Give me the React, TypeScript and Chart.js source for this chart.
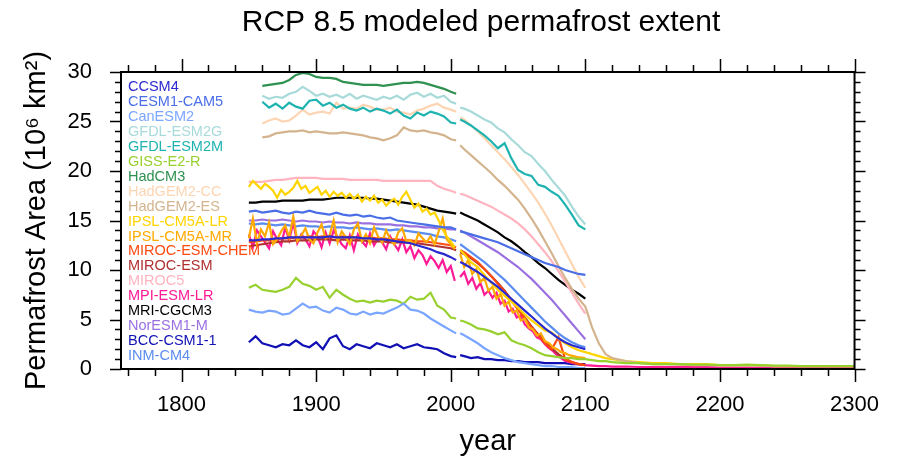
import { useEffect, useRef } from 'react';
import { Chart, registerables } from 'chart.js';

Chart.register(...registerables);

// ---------- axes / tick labels ----------
const chartTitle = 'RCP 8.5 modeled permafrost extent';
const xLabelYears = [1800, 1900, 2000, 2100, 2200, 2300];
const yLabelValues = [0, 5, 10, 15, 20, 25, 30];

// ---------- time axes of the data ----------
const histYears = [1850, 1855, 1860, 1865, 1870, 1875, 1880, 1885, 1890, 1895, 1900, 1905, 1910, 1915, 1920, 1925, 1930, 1935, 1940, 1945, 1950, 1955, 1960, 1965, 1970, 1975, 1980, 1985, 1990, 1995, 2000, 2004];
const histYearsLate = [1860, 1865, 1870, 1875, 1880, 1885, 1890, 1895, 1900, 1905, 1910, 1915, 1920, 1925, 1930, 1935, 1940, 1945, 1950, 1955, 1960, 1965, 1970, 1975, 1980, 1985, 1990, 1995, 2000, 2004];
const histYearsFine = [1850, 1853, 1856, 1859, 1862, 1865, 1868, 1871, 1874, 1877, 1880, 1883, 1886, 1889, 1892, 1895, 1898, 1901, 1904, 1907, 1910, 1913, 1916, 1919, 1922, 1925, 1928, 1931, 1934, 1937, 1940, 1943, 1946, 1949, 1952, 1955, 1958, 1961, 1964, 1967, 1970, 1973, 1976, 1979, 1982, 1985, 1988, 1991, 1994, 1997, 2000, 2003];
const rcpYears = [2007, 2010, 2015, 2020, 2025, 2030, 2035, 2040, 2045, 2050, 2055, 2060, 2065, 2070, 2075, 2080, 2085, 2090, 2095, 2100];
const rcpYearsFine = [2007, 2010, 2013, 2016, 2019, 2022, 2025, 2028, 2031, 2034, 2037, 2040, 2043, 2046, 2049, 2052, 2055, 2058, 2061, 2064, 2067, 2070, 2073, 2076, 2079, 2082, 2085, 2088, 2091, 2094, 2097, 2100];
const extYears = [2105, 2110, 2115, 2120, 2130, 2140, 2150, 2160, 2170, 2180, 2190, 2200, 2210, 2220, 2230, 2240, 2250, 2260, 2270, 2280, 2290, 2300];

// ---------- model names & colours ----------
const modelNames = ['CCSM4', 'CESM1-CAM5', 'CanESM2', 'GFDL-ESM2G', 'GFDL-ESM2M', 'GISS-E2-R', 'HadCM3', 'HadGEM2-CC', 'HadGEM2-ES', 'IPSL-CM5A-LR', 'IPSL-CM5A-MR', 'MIROC-ESM-CHEM', 'MIROC-ESM', 'MIROC5', 'MPI-ESM-LR', 'MRI-CGCM3', 'NorESM1-M', 'BCC-CSM1-1', 'INM-CM4'];
const modelColors = ['#2a2ad0', '#4a6ee6', '#7ba6ff', '#a9dada', '#1fb3b0', '#98d030', '#2e9150', '#fdd5b2', '#d4b48e', '#ffd400', '#ffaa00', '#ff4a10', '#b03030', '#ffb4c0', '#ff1a96', '#000000', '#9a70e0', '#1010b4', '#5b8cf0'];

// ---------- permafrost area (10^6 km2) ----------
const ccsm4Hist = [13.0, 13.0, 13.1, 13.1, 13.2, 13.2, 13.3, 13.3, 13.3, 13.3, 13.3, 13.3, 13.4, 13.3, 13.3, 13.3, 13.3, 13.2, 13.2, 13.1, 13.1, 13.0, 12.9, 12.8, 12.7, 12.5, 12.3, 12.1, 11.8, 11.6, 11.3, 11.0];
const ccsm4Rcp = [10.8, 10.6, 10.2, 9.8, 9.3, 8.8, 8.3, 7.7, 7.1, 6.5, 5.9, 5.3, 4.7, 4.1, 3.6, 3.1, 2.7, 2.4, 2.2, 2.0];

const cesmHist = [15.9, 16.0, 15.8, 15.9, 16.0, 15.8, 15.7, 15.9, 15.8, 16.0, 15.8, 15.7, 15.6, 15.8, 15.6, 15.5, 15.6, 15.4, 15.5, 15.3, 15.2, 15.3, 15.0, 14.9, 14.8, 14.7, 14.6, 14.5, 14.4, 14.3, 14.3, 14.1];
const cesmRcp = [13.9, 13.8, 13.6, 13.4, 13.2, 13.0, 12.8, 12.5, 12.2, 11.9, 11.6, 11.3, 11.0, 10.7, 10.5, 10.3, 10.0, 9.8, 9.6, 9.5];

const canesmHist = [6.0, 5.8, 5.7, 5.9, 5.8, 5.5, 5.6, 6.1, 6.6, 6.2, 6.3, 5.9, 5.7, 6.2, 6.0, 5.6, 5.5, 5.8, 5.5, 5.7, 5.6, 5.9, 6.2, 6.6, 6.0, 5.9, 5.6, 5.1, 4.7, 4.3, 3.9, 3.6];
const canesmRcp = [3.6, 3.4, 3.0, 2.6, 2.1, 1.7, 1.4, 1.1, 0.9, 0.7, 0.6, 0.5, 0.4, 0.3, 0.3, 0.2, 0.2, 0.2, 0.1, 0.1];

const gfdlGHist = [27.6, 27.3, 27.5, 27.4, 27.8, 28.0, 28.5, 28.1, 27.6, 27.8, 27.5, 27.7, 27.4, 27.8, 27.3, 27.6, 27.4, 27.2, 27.5, 27.3, 27.6, 27.2, 27.7, 27.9, 27.5, 27.8, 27.4, 27.6, 27.0, 26.8];
const gfdlGRcp = [26.4, 26.3, 26.0, 25.6, 25.2, 24.9, 24.3, 23.9, 23.2, 22.6, 21.9, 21.5, 20.7, 20.0, 19.1, 18.3, 17.5, 16.4, 15.4, 14.6];

const gfdlMHist = [27.0, 26.4, 26.8, 26.3, 26.9, 26.5, 26.3, 27.1, 27.2, 26.6, 26.9, 26.4, 26.7, 26.3, 26.1, 26.4, 26.0, 26.3, 26.1, 25.8, 26.2, 25.6, 25.3, 25.9, 25.6, 26.0, 25.8, 25.5, 24.9, 24.8];
const gfdlMRcp = [25.2, 25.0, 24.6, 24.1, 23.6, 23.0, 22.3, 22.8, 21.3, 20.1, 19.7, 19.5, 18.6, 18.4, 17.9, 17.5, 16.6, 15.6, 14.5, 14.1];

const gissHist = [8.2, 8.5, 8.0, 7.9, 7.8, 8.0, 8.3, 9.2, 8.6, 8.4, 8.0, 8.3, 7.2, 8.0, 7.5, 7.1, 6.8, 6.9, 6.7, 6.9, 6.8, 7.0, 6.9, 6.6, 7.3, 7.0, 7.1, 7.7, 6.4, 6.0, 5.2, 5.1];
const gissRcp = [4.9, 4.8, 4.5, 4.1, 4.0, 3.8, 3.5, 3.7, 2.9, 2.6, 2.4, 2.1, 1.7, 1.4, 1.3, 1.2, 1.1, 1.1, 1.0, 1.0];
const gissExt = [0.9, 0.8, 0.8, 0.7, 0.6, 0.6, 0.5, 0.5, 0.5, 0.45, 0.45, 0.4, 0.4, 0.45, 0.4, 0.35, 0.35, 0.3, 0.3, 0.3, 0.3, 0.3];

const hadcm3Hist = [28.6, 28.7, 28.8, 28.9, 29.2, 29.7, 29.9, 29.8, 29.5, 29.4, 29.4, 29.3, 29.0, 28.9, 28.8, 28.7, 28.7, 28.7, 28.6, 28.7, 28.8, 28.9, 28.9, 29.0, 28.9, 28.7, 28.5, 28.3, 28.0, 27.8];

const hadccHist = [24.8, 25.1, 25.3, 25.0, 25.1, 25.6, 26.2, 25.7, 25.9, 26.0, 25.8, 26.9, 26.3, 26.4, 26.3, 26.7, 26.5, 26.2, 26.2, 26.4, 26.0, 25.9, 25.7, 26.1, 26.3, 26.6, 26.8, 26.4, 26.2, 26.0];
const hadccRcp = [25.4, 25.2, 24.6, 24.0, 23.3, 22.6, 21.9, 21.2, 20.4, 19.6, 18.7, 17.8, 16.8, 15.7, 14.5, 13.2, 11.9, 10.6, 9.3, 8.2];

const hadesHist = [23.4, 23.5, 23.8, 23.9, 24.0, 24.0, 24.1, 23.9, 24.0, 23.9, 23.8, 23.8, 23.9, 23.8, 23.7, 23.6, 23.4, 23.3, 23.1, 23.3, 23.6, 24.4, 24.1, 24.0, 24.1, 23.9, 23.8, 23.6, 23.2, 23.1];
const hadesRcp = [22.6, 22.2, 21.6, 21.0, 20.4, 19.8, 19.1, 18.5, 17.8, 17.1, 16.2, 15.2, 14.1, 12.9, 11.7, 10.4, 9.2, 8.1, 7.1, 6.3];
const hadesExt = [4.2, 2.6, 1.5, 1.1, 0.8, 0.6, 0.5, 0.5, 0.45, 0.4, 0.4, 0.4, 0.35, 0.35, 0.35, 0.3, 0.3, 0.3, 0.3, 0.3, 0.3, 0.3];

const ipslLrHist = [18.4, 19.0, 18.6, 18.2, 18.7, 18.4, 18.0, 17.3, 18.1, 17.6, 17.9, 18.3, 19.0, 18.2, 18.5, 17.8, 18.1, 18.4, 17.6, 18.0, 17.4, 17.9, 17.5, 17.8, 17.3, 17.7, 17.2, 17.6, 16.9, 17.4, 17.0, 17.5, 16.8, 17.1, 16.5, 16.9, 17.2, 16.6, 17.4, 17.9, 17.1, 16.3, 16.7, 15.9, 16.2, 15.6, 15.8, 15.0, 14.1, 13.4, 12.9, 12.3];
const ipslLrRcp = [12.0, 11.6, 10.8, 10.3, 9.5, 8.7, 8.0, 7.4, 6.8, 6.2, 5.5, 4.9, 4.4, 3.9, 3.7, 3.1, 2.6, 2.2, 1.9, 1.7];
const ipslLrExt = [1.5, 1.3, 1.1, 1.0, 0.8, 0.7, 0.6, 0.6, 0.5, 0.5, 0.5, 0.4, 0.4, 0.4, 0.4, 0.3, 0.3, 0.3, 0.3, 0.3, 0.3, 0.3];

const ipslMrHist = [13.2, 15.2, 12.7, 14.1, 13.4, 14.8, 12.6, 13.1, 13.9, 14.5, 13.3, 15.4, 12.9, 13.5, 14.2, 13.1, 12.7, 13.8, 14.6, 13.2, 13.5, 15.0, 12.8, 13.9, 13.3, 12.6, 14.1, 14.7, 12.9, 13.6, 12.7, 14.3, 13.4, 12.8, 14.0, 13.1, 12.6, 13.8, 14.2, 12.9, 13.0, 12.5, 13.7, 13.2, 12.8, 13.4, 12.6, 13.9, 15.2, 13.1, 12.6, 12.1];
const ipslMrRcp = [11.6, 10.3, 11.0, 9.6, 10.1, 8.8, 9.2, 7.9, 8.3, 7.1, 7.6, 6.4, 6.8, 5.7, 5.9, 4.9, 5.1, 4.2, 4.0, 3.4, 3.6, 2.8, 2.6, 2.2, 2.0, 1.7, 1.6, 1.4, 1.3, 1.2, 1.15, 1.1];

const mirocChemHist = [12.8, 12.9, 13.0, 13.0, 13.1, 13.2, 13.2, 13.3, 13.3, 13.4, 13.3, 13.4, 13.4, 13.3, 13.4, 13.3, 13.3, 13.2, 13.3, 13.2, 13.2, 13.1, 13.1, 13.0, 13.0, 12.9, 12.9, 12.8, 12.7, 12.6, 12.5, 12.3];
const mirocChemRcp = [12.0, 11.8, 11.3, 10.8, 10.1, 9.4, 8.6, 7.8, 6.9, 6.0, 5.1, 4.2, 3.4, 2.6, 2.0, 3.2, 1.0, 0.7, 0.5, 0.4];

const mirocEsmHist = [12.4, 12.5, 12.6, 12.7, 12.8, 12.9, 12.9, 13.0, 13.0, 13.0, 13.1, 13.1, 13.1, 13.0, 13.1, 13.0, 13.0, 13.0, 12.9, 12.9, 12.9, 12.8, 12.8, 12.8, 12.7, 12.7, 12.6, 12.5, 12.4, 12.3, 12.2, 12.0];
const mirocEsmRcp = [11.8, 11.6, 11.2, 10.7, 10.1, 9.4, 8.7, 7.9, 7.0, 6.1, 5.2, 4.3, 3.5, 2.8, 2.1, 1.5, 1.0, 0.7, 0.5, 0.4];

const miroc5Hist = [18.9, 18.9, 18.9, 19.0, 19.1, 19.1, 19.2, 19.3, 19.3, 19.3, 19.3, 19.2, 19.2, 19.2, 19.2, 19.1, 19.1, 19.1, 19.1, 19.1, 19.0, 19.0, 19.0, 19.0, 19.0, 19.0, 19.0, 19.0, 18.5, 18.2, 18.0, 17.8];
const miroc5Rcp = [17.7, 17.6, 17.3, 17.0, 16.7, 16.4, 16.0, 15.6, 15.2, 14.7, 14.1, 13.4, 12.6, 11.8, 10.9, 9.9, 8.8, 7.7, 6.6, 5.6];

const mpiHist = [13.6, 12.3, 14.0, 13.4, 12.8, 12.2, 13.9, 13.1, 12.5, 14.3, 13.0, 14.8, 12.7, 13.6, 13.1, 12.4, 13.9, 13.4, 12.3, 13.8, 12.7, 14.0, 13.3, 12.6, 12.2, 13.5, 12.0, 13.6, 12.9, 12.4, 13.7, 12.5, 13.2, 12.8, 12.1, 13.4, 12.6, 12.0, 13.1, 11.8, 12.4, 11.2, 12.0, 11.5, 10.6, 11.4, 10.9, 10.2, 11.0, 9.8, 10.4, 8.9];
const mpiRcp = [9.3, 9.8, 8.6, 9.2, 8.1, 8.7, 7.5, 7.9, 7.2, 7.7, 6.6, 6.9, 5.8, 6.1, 5.2, 5.4, 4.5, 4.1, 3.8, 3.2, 3.0, 2.5, 2.1, 1.8, 1.4, 1.1, 0.8, 0.7, 0.6, 0.5, 0.45, 0.4];
const mpiExt = [0.35, 0.3, 0.3, 0.25, 0.25, 0.2, 0.2, 0.2, 0.2, 0.2, 0.2, 0.15, 0.15, 0.15, 0.15, 0.15, 0.15, 0.15, 0.15, 0.15, 0.15, 0.15];

const mriHist = [16.8, 16.8, 16.9, 16.9, 16.9, 17.0, 17.0, 17.0, 17.0, 17.1, 17.1, 17.1, 17.2, 17.3, 17.3, 17.3, 17.3, 17.3, 17.2, 17.2, 17.1, 17.0, 16.9, 16.8, 16.7, 16.6, 16.4, 16.2, 16.0, 15.9, 15.8, 15.7];
const mriRcp = [15.8, 15.6, 15.3, 15.0, 14.6, 14.2, 13.8, 13.3, 12.9, 12.4, 11.8, 11.3, 10.7, 10.2, 9.6, 9.0, 8.5, 8.0, 7.6, 7.1];

const noresmHist = [15.0, 15.0, 15.1, 15.0, 15.0, 15.1, 15.0, 14.9, 15.0, 14.9, 14.9, 14.8, 14.9, 14.8, 14.8, 14.7, 14.8, 14.7, 14.7, 14.6, 14.6, 14.6, 14.5, 14.5, 14.4, 14.4, 14.3, 14.3, 14.2, 14.2, 14.1, 14.1];
const noresmRcp = [14.0, 13.8, 13.4, 13.0, 12.6, 12.2, 11.8, 11.3, 10.8, 10.3, 9.7, 9.1, 8.4, 7.7, 7.0, 6.2, 5.4, 4.6, 3.8, 3.0];

const bccHist = [2.7, 3.3, 2.6, 2.4, 2.2, 2.5, 2.4, 2.9, 2.4, 2.2, 2.7, 2.0, 3.1, 3.4, 2.3, 2.0, 2.5, 2.3, 2.1, 2.6, 2.4, 2.2, 2.5, 2.1, 2.3, 2.5, 2.2, 2.1, 2.0, 1.6, 1.3, 1.2];
const bccRcp = [1.4, 1.3, 1.1, 1.2, 1.0, 1.0, 0.9, 0.9, 0.8, 0.8, 0.7, 0.7, 0.7, 0.6, 0.6, 0.6, 0.6, 0.5, 0.5, 0.5];

const inmHist = [14.7, 14.6, 14.7, 14.6, 14.5, 14.6, 14.5, 14.4, 14.5, 14.4, 14.4, 14.3, 14.4, 14.3, 14.3, 14.2, 14.3, 14.2, 14.1, 14.2, 14.1, 14.0, 14.1, 14.0, 13.9, 13.8, 13.7, 13.6, 13.4, 13.3, 13.1, 12.9];
const inmRcp = [12.6, 12.3, 11.8, 11.3, 10.8, 10.2, 9.6, 9.0, 8.3, 7.6, 6.9, 6.2, 5.5, 4.8, 4.2, 3.6, 3.1, 2.7, 2.4, 2.2];

type Pt = { x: number; y: number | null };

function buildSeries(hYears: number[], hist: number[], rYears?: number[], rcp?: number[], ext?: number[]): Pt[] {
  const pts: Pt[] = hist.map((v, i) => ({ x: hYears[i], y: v }));
  if (rcp && rYears) {
    pts.push({ x: 2005.5, y: null });
    rcp.forEach((v, i) => pts.push({ x: rYears[i], y: v }));
  }
  if (ext) ext.forEach((v, i) => pts.push({ x: extYears[i], y: v }));
  return pts;
}

const modelSeries: Pt[][] = [
  buildSeries(histYears, ccsm4Hist, rcpYears, ccsm4Rcp),
  buildSeries(histYears, cesmHist, rcpYears, cesmRcp),
  buildSeries(histYears, canesmHist, rcpYears, canesmRcp),
  buildSeries(histYearsLate, gfdlGHist, rcpYears, gfdlGRcp),
  buildSeries(histYearsLate, gfdlMHist, rcpYears, gfdlMRcp),
  buildSeries(histYears, gissHist, rcpYears, gissRcp, gissExt),
  buildSeries(histYearsLate, hadcm3Hist),
  buildSeries(histYearsLate, hadccHist, rcpYears, hadccRcp),
  buildSeries(histYearsLate, hadesHist, rcpYears, hadesRcp, hadesExt),
  buildSeries(histYearsFine, ipslLrHist, rcpYears, ipslLrRcp, ipslLrExt),
  buildSeries(histYearsFine, ipslMrHist, rcpYearsFine, ipslMrRcp),
  buildSeries(histYears, mirocChemHist, rcpYears, mirocChemRcp),
  buildSeries(histYears, mirocEsmHist, rcpYears, mirocEsmRcp),
  buildSeries(histYears, miroc5Hist, rcpYears, miroc5Rcp),
  buildSeries(histYearsFine, mpiHist, rcpYearsFine, mpiRcp, mpiExt),
  buildSeries(histYears, mriHist, rcpYears, mriRcp),
  buildSeries(histYears, noresmHist, rcpYears, noresmRcp),
  buildSeries(histYears, bccHist, rcpYears, bccRcp),
  buildSeries(histYears, inmHist, rcpYears, inmRcp),
];

const SANS = '"Liberation Sans", Arial, Helvetica, sans-serif';

const framePlugin = {
  id: 'frameTicksLegend',
  afterDatasetsDraw(chart: any) {
    const { ctx, chartArea: a, scales } = chart;
    const xs = scales.x;
    const ys = scales.y;
    ctx.save();
    ctx.strokeStyle = '#000';
    ctx.lineWidth = 1.5;
    ctx.beginPath();
    for (let yr = 1760; yr <= 2300; yr += 20) {
      const px = Math.round(xs.getPixelForValue(yr)) + 0.5;
      const len = yr % 100 === 0 ? 13 : 7;
      ctx.moveTo(px, a.bottom);
      ctx.lineTo(px, a.bottom + len);
      ctx.moveTo(px, a.top);
      ctx.lineTo(px, a.top - len);
    }
    for (let v = 0; v <= 30; v += 1) {
      const py = Math.round(ys.getPixelForValue(v)) + 0.5;
      const len = v % 5 === 0 ? 11 : 6;
      ctx.moveTo(a.left, py);
      ctx.lineTo(a.left - len, py);
      ctx.moveTo(a.right, py);
      ctx.lineTo(a.right + len, py);
    }
    ctx.stroke();
    ctx.lineWidth = 2;
    ctx.strokeRect(a.left, a.top, a.right - a.left, a.bottom - a.top);

    // in-plot legend (coloured names)
    ctx.font = '14.5px ' + SANS;
    ctx.textBaseline = 'middle';
    ctx.textAlign = 'left';
    modelNames.forEach((name, i) => {
      ctx.fillStyle = modelColors[i];
      ctx.fillText(name, a.left + 7, a.top + 15 + i * 14.95);
    });

    // title, centred over the plot frame
    ctx.fillStyle = '#000';
    ctx.font = '30px ' + SANS;
    ctx.textAlign = 'center';
    ctx.textBaseline = 'alphabetic';
    ctx.fillText(chartTitle, 481, 31);
    ctx.restore();
  },
};

export default function App() {
  const canvasRef = useRef<HTMLCanvasElement | null>(null);

  useEffect(() => {
    document.body.style.margin = '0';
    const canvas = canvasRef.current;
    if (!canvas) return;
    const chart = new Chart(canvas, {
      type: 'line',
      data: {
        datasets: modelNames.map((name, i) => ({
          label: name,
          data: modelSeries[i] as any,
          borderColor: modelColors[i],
          backgroundColor: modelColors[i],
          borderWidth: 2.2,
          pointRadius: 0,
          tension: 0,
          fill: false,
          spanGaps: false,
        })),
      },
      options: {
        animation: false,
        responsive: false,
        layout: { padding: { left: 0, right: 40, top: 72, bottom: 0 } },
        plugins: {
          legend: { display: false },
          tooltip: { enabled: false },
          title: { display: false },
        },
        scales: {
          x: {
            type: 'linear',
            min: 1755,
            max: 2300,
            grid: { display: false, drawTicks: false },
            border: { display: false },
            afterBuildTicks: (s: any) => {
              s.ticks = xLabelYears.map((v) => ({ value: v }));
            },
            afterFit: (s: any) => {
              s.height = 93;
            },
            ticks: {
              padding: 23,
              color: '#000',
              autoSkip: false,
              maxRotation: 0,
              font: { family: SANS, size: 22 },
              callback: (v: any) => String(v),
            },
            title: {
              display: true,
              text: 'year',
              color: '#000',
              font: { family: SANS, size: 29 },
              padding: { top: 0, bottom: 3 },
            },
          },
          y: {
            type: 'linear',
            min: 0,
            max: 30,
            grid: { display: false, drawTicks: false },
            border: { display: false },
            afterBuildTicks: (s: any) => {
              s.ticks = yLabelValues.map((v) => ({ value: v }));
            },
            afterFit: (s: any) => {
              s.width = 121;
            },
            ticks: {
              padding: 29,
              color: '#000',
              font: { family: SANS, size: 22 },
              callback: (v: any) => String(v),
            },
            title: {
              display: true,
              text: 'Permafrost Area (10\u2076 km\u00b2)',
              color: '#000',
              font: { family: SANS, size: 29 },
              padding: { top: 20, bottom: 0 },
            },
          },
        },
      } as any,
      plugins: [framePlugin],
    });
    return () => chart.destroy();
  }, []);

  return (
    <div style={{ width: 902, height: 462 }}>
      <canvas ref={canvasRef} width={902} height={462} style={{ display: 'block' }} />
    </div>
  );
}
